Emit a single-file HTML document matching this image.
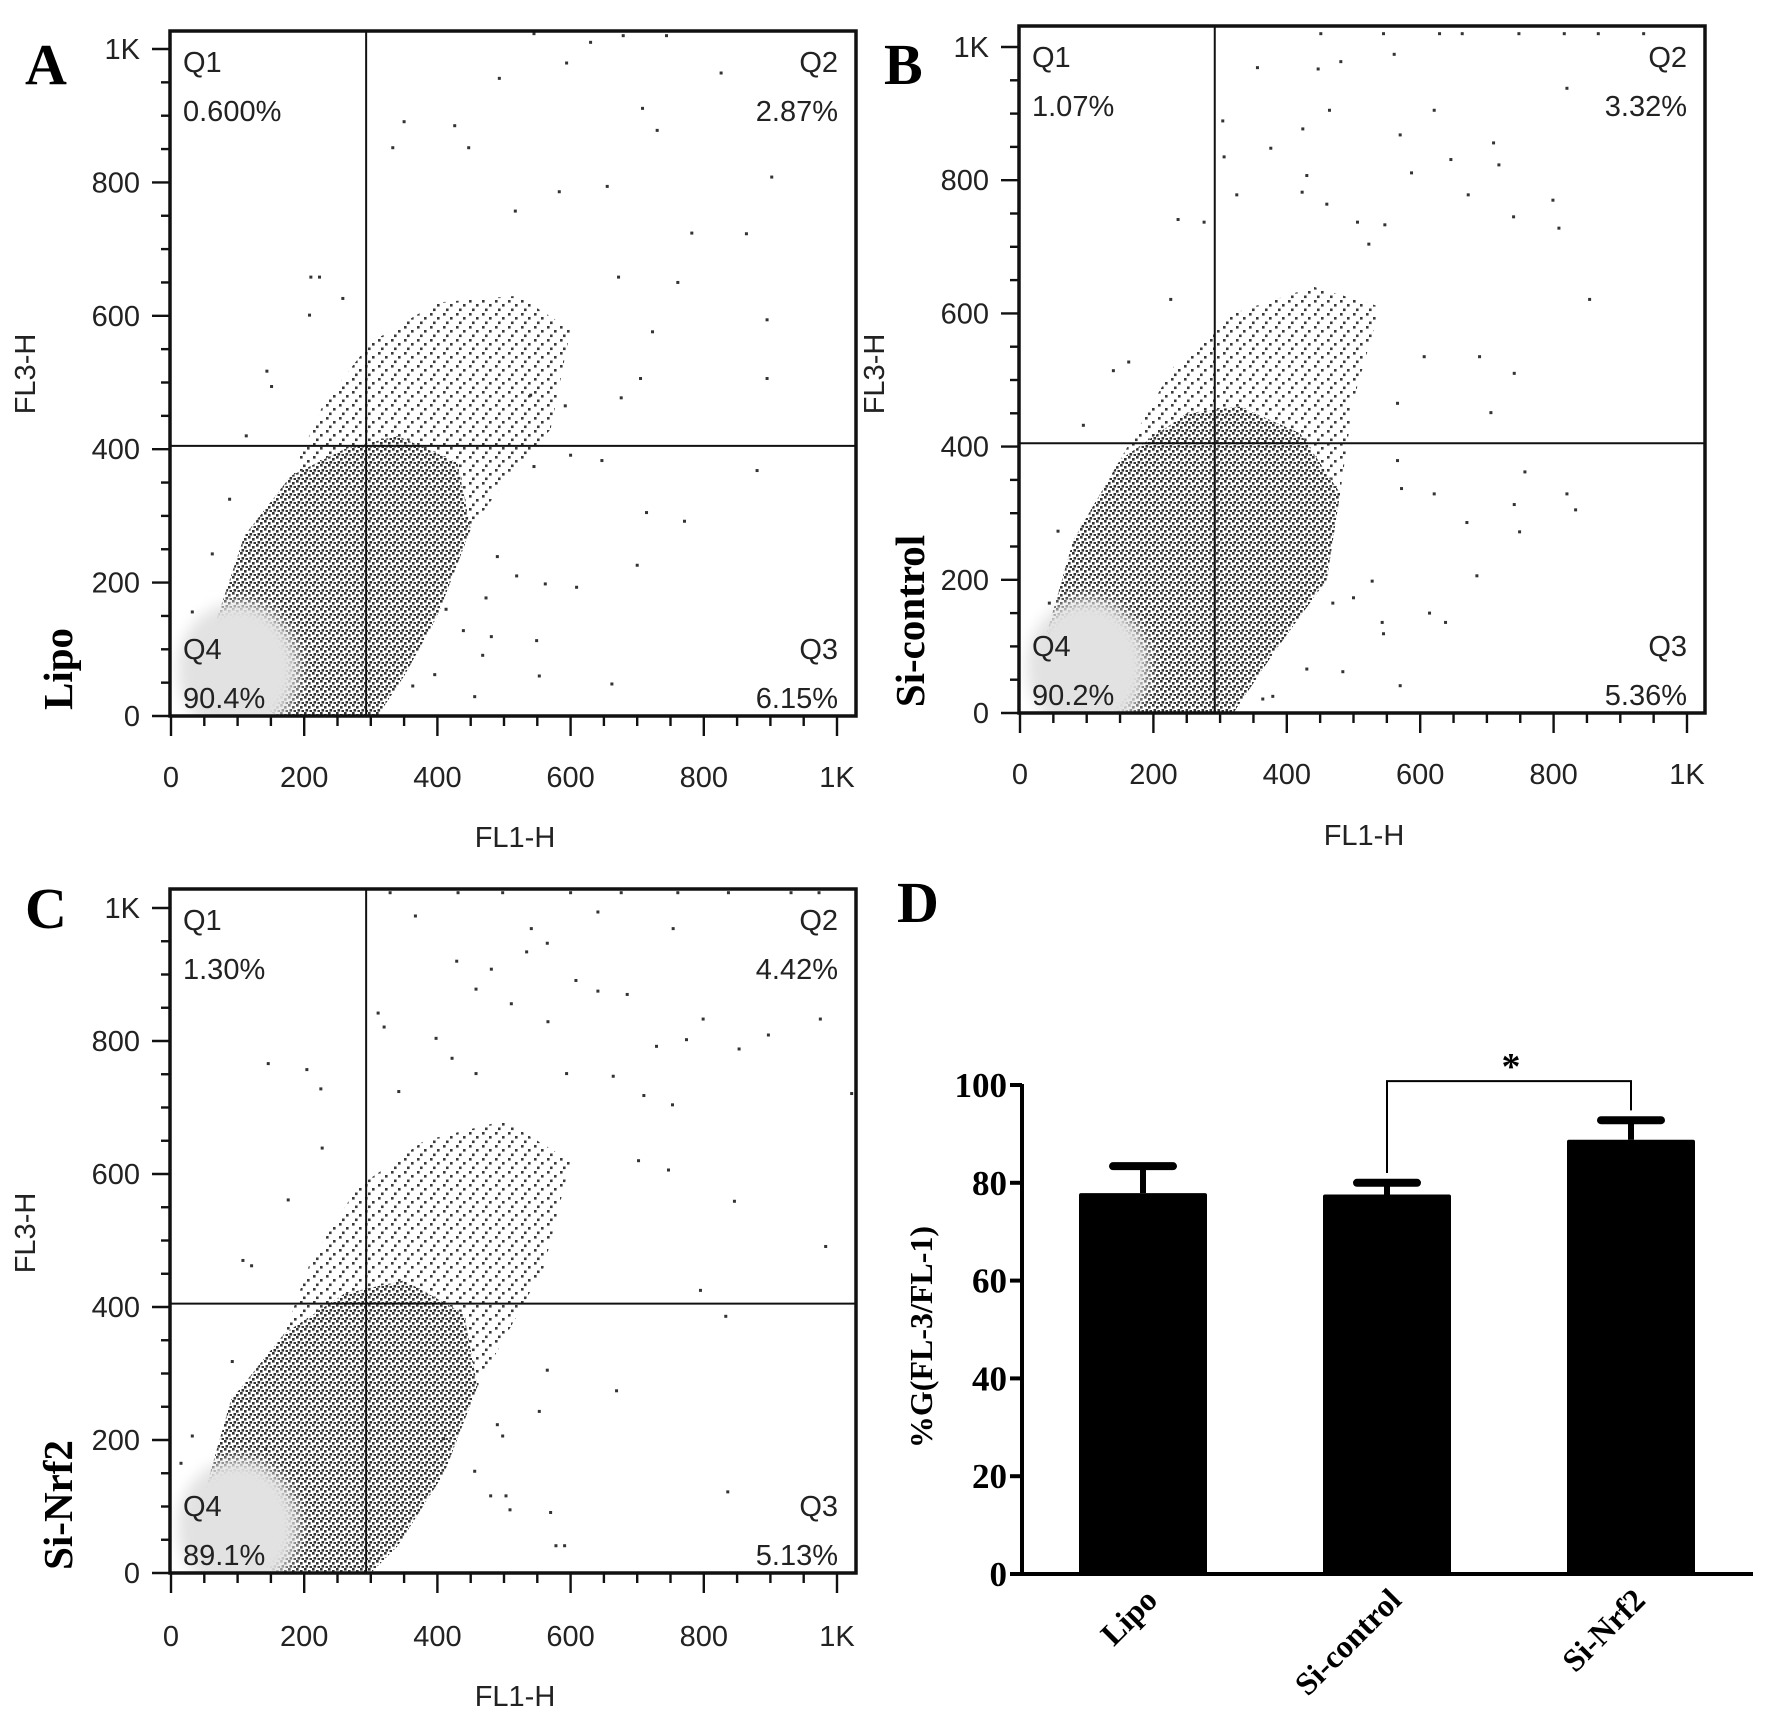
<!DOCTYPE html>
<html><head><meta charset="utf-8"><style>
html,body{margin:0;padding:0;background:#fff;}
svg{display:block;}
</style></head>
<body>
<svg id="fig" width="1772" height="1719" viewBox="0 0 1772 1719" xmlns="http://www.w3.org/2000/svg">
<defs>
<pattern id="densePat" width="8" height="8" patternUnits="userSpaceOnUse">
<rect x="0" y="0" width="2.6" height="2.6" fill="#333"/><rect x="4" y="2" width="2.6" height="2.6" fill="#333"/><rect x="1.5" y="5" width="2.6" height="2.6" fill="#333"/><rect x="5.5" y="6" width="2.6" height="2.6" fill="#333"/>
</pattern>
<pattern id="midPat" width="13" height="13" patternUnits="userSpaceOnUse">
<rect x="1" y="1" width="2.6" height="2.6" fill="#3a3a3a"/><rect x="8" y="5" width="2.6" height="2.6" fill="#3a3a3a"/><rect x="4" y="9.5" width="2.6" height="2.6" fill="#3a3a3a"/>
</pattern>
<filter id="blur6"><feGaussianBlur stdDeviation="7"/></filter>
</defs>
</svg>
<script>
// ---------- Scatter panel data (values in channel units 0-1000) ----------
const panelNames = ["A","B","C"];
const groupLabels = ["Lipo","Si-control","Si-Nrf2"];
const q1Pct = ["0.600%","1.07%","1.30%"];
const q2Pct = ["2.87%","3.32%","4.42%"];
const q3Pct = ["6.15%","5.36%","5.13%"];
const q4Pct = ["90.4%","90.2%","89.1%"];
const gateX = [293,292,293];
const gateY = [405,405,405];
const axisTicks = [0,200,400,600,800,1000];
const axisTickLabels = ["0","200","400","600","800","1K"];
const sparseA = [[545,1023],[679,1020],[744,1020],[630,1010],[594,979],[493,956],[826,964],[708,911],[350,891],[426,885],[730,878],[333,852],[447,852],[902,808],[583,786],[517,757],[655,794],[782,724],[864,723],[895,594],[895,506],[672,658],[723,576],[761,650],[880,368],[714,305],[771,292],[700,226],[609,193],[562,198],[549,113],[553,60],[662,48],[473,177],[468,91],[210,658],[223,658],[208,601],[258,626],[144,517],[151,494],[113,420],[88,325],[62,243],[32,156],[600,391],[545,374],[647,383],[676,477],[705,506],[540,481],[592,465],[490,239],[519,210],[413,160],[439,128],[481,119],[396,62],[363,45],[456,29]];
const sparseB = [[451,1020],[545,1020],[629,1020],[663,1020],[748,1020],[816,1020],[867,1020],[935,1020],[561,989],[356,969],[447,967],[481,978],[820,938],[621,905],[464,905],[304,889],[424,877],[306,835],[376,848],[570,868],[710,856],[718,823],[646,831],[587,811],[430,807],[325,778],[423,782],[460,764],[799,770],[672,778],[740,745],[808,728],[854,621],[741,510],[706,451],[566,465],[606,535],[689,535],[506,737],[547,733],[523,704],[237,741],[276,737],[226,621],[163,527],[140,514],[757,362],[820,329],[833,305],[741,313],[749,272],[670,286],[621,329],[566,379],[572,337],[685,206],[614,150],[638,136],[543,136],[545,119],[528,198],[500,173],[469,165],[570,41],[484,62],[430,66],[379,25],[364,21],[57,273],[95,432],[44,165]];
const sparseC = [[329,1023],[431,1023],[498,1023],[600,1023],[676,1023],[761,1023],[837,1023],[931,1023],[973,1023],[367,988],[641,994],[541,969],[565,947],[754,969],[534,934],[429,920],[481,908],[458,878],[608,891],[685,870],[511,856],[641,875],[566,829],[799,833],[853,788],[897,809],[975,833],[774,802],[729,792],[398,804],[320,821],[311,842],[146,766],[204,757],[225,728],[227,639],[342,724],[422,774],[458,751],[594,751],[664,747],[710,718],[753,704],[1022,721],[702,620],[747,606],[846,559],[983,491],[795,425],[833,386],[669,274],[565,305],[553,243],[490,223],[498,206],[480,116],[503,116],[509,95],[570,91],[578,41],[591,41],[836,122],[456,153],[409,202],[108,470],[121,462],[92,318],[32,206],[15,165],[142,186],[176,561]];
const sparseSets = [sparseA, sparseB, sparseC];
// dense cell-cloud outlines (value coords)
const denseA = [[60,120],[110,270],[180,360],[260,400],[340,420],[430,380],[450,280],[400,150],[350,60],[310,0],[160,0],[90,40]];
const midA = [[180,360],[230,470],[300,560],[400,620],[520,630],[600,580],[570,430],[500,350],[450,280],[430,380],[340,420],[260,400]];
const denseB = [[40,120],[80,260],[150,380],[250,450],[330,460],[420,420],[480,330],[460,200],[380,90],[320,0],[150,0],[60,40]];
const midB = [[150,380],[230,520],[320,600],[440,640],[540,610],[500,470],[480,330],[420,420],[330,460],[250,450]];
const denseC = [[50,120],[90,260],[170,360],[260,420],[350,440],[440,390],[460,280],[410,150],[340,40],[300,0],[160,0],[70,40]];
const midC = [[170,360],[210,470],[280,580],[380,650],[500,680],[600,620],[560,460],[460,280],[440,390],[350,440],[260,420]];
const denseSets = [denseA, denseB, denseC];
const midSets = [midA, midB, midC];

// ---------- Bar chart data ----------
const barCategories = ["Lipo","Si-control","Si-Nrf2"];
const barMeans = [77.9, 77.6, 88.8];
const barErrors = [5.5, 2.4, 4.0];
const barTicks = [0,20,40,60,80,100];
const sigPair = [1,2];
const sigLabel = "*";

const NS = "http://www.w3.org/2000/svg";
const svg = document.getElementById("fig");
function mk(tag, attrs, parent, text){
  const e = document.createElementNS(NS, tag);
  for (const k in attrs) e.setAttribute(k, attrs[k]);
  if (text !== undefined) e.textContent = text;
  (parent || svg).appendChild(e);
  return e;
}

const layouts = [
  {box:[170,31,856,716], x0:171, x1:837, y0:716, y1:49, letter:[25,84], ytitle:[25,374], group:[72,669], tickY:787, xtitle:847},
  {box:[1019,26,1705,713], x0:1020, x1:1687, y0:713, y1:47, letter:[884,84], ytitle:[874,374], group:[924,621], tickY:784, xtitle:845},
  {box:[170,889,856,1573], x0:171, x1:837, y0:1573, y1:908, letter:[25,928], ytitle:[25,1233], group:[72,1505], tickY:1646, xtitle:1706}
];

layouts.forEach((L, i) => {
  const g = mk("g", {});
  
  
  const sx = v => L.x0 + (L.x1 - L.x0) * v / 1000;
  const sy = v => L.y0 - (L.y0 - L.y1) * v / 1000;
  const [bl, bt, br, bb] = L.box;
  const clipId = "clip" + i;
  const cp = mk("clipPath", {id: clipId}, g);
  mk("rect", {x: bl, y: bt, width: br - bl, height: bb - bt}, cp);
  const inner = mk("g", {"clip-path": "url(#" + clipId + ")"}, g);

  const pts = arr => arr.map(p => sx(p[0]).toFixed(1) + "," + sy(p[1]).toFixed(1)).join(" ");
  const mid = mk("polygon", {points: pts(midSets[i]), fill: "url(#midPat)"}, inner);
  
  
  const dense = mk("polygon", {points: pts(denseSets[i]), fill: "url(#densePat)"}, inner);
  
  
  const core = mk("ellipse", {cx: sx(100), cy: sy(70), rx: (sx(90) - sx(0)), ry: (sy(0) - sy(100)), fill: "#e2e2e2", filter: "url(#blur6)"}, inner);
  
  

  sparseSets[i].forEach(p => {
    const d = mk("rect", {x: sx(p[0]) - 1.5, y: sy(p[1]) - 1.5, width: 3, height: 3, fill: "#333"}, inner);
    
    
  });

  const gv = mk("line", {x1: sx(gateX[i]), y1: bt, x2: sx(gateX[i]), y2: bb, stroke: "#111", "stroke-width": 2}, g);
  
  
  const gh = mk("line", {x1: bl, y1: sy(gateY[i]), x2: br, y2: sy(gateY[i]), stroke: "#111", "stroke-width": 2}, g);
  
  

  const fr = mk("rect", {x: bl, y: bt, width: br - bl, height: bb - bt, fill: "none", stroke: "#111", "stroke-width": 3.5}, g);
  
  

  for (let v = 0; v <= 1000; v += 50) {
    const major = v % 200 === 0;
    mk("line", {x1: bl - (major ? 18 : 9), y1: sy(v), x2: bl, y2: sy(v), stroke: "#111", "stroke-width": 2.4}, g);
  }
  for (let v = 0; v <= 1000; v += 50) {
    const major = v % 200 === 0;
    mk("line", {x1: sx(v), y1: bb, x2: sx(v), y2: bb + (major ? 20 : 10), stroke: "#111", "stroke-width": 2.4}, g);
  }
  axisTicks.forEach((v, k) => {
    const ty = mk("text", {x: bl - 30, y: sy(v) + 10, "text-anchor": "end", "font-family": "Liberation Sans, sans-serif", "font-size": 29, fill: "#222"}, g, axisTickLabels[k]);
    
    
    const tx = mk("text", {x: sx(v), y: L.tickY, "text-anchor": "middle", "font-family": "Liberation Sans, sans-serif", "font-size": 29, fill: "#222"}, g, axisTickLabels[k]);
    
    
  });

  const qf = {"font-family": "Liberation Sans, sans-serif", "font-size": 29, fill: "#222"};
  const lab = (x, y, anchor, t, name) => {
    const e = mk("text", Object.assign({x: x, y: y, "text-anchor": anchor}, qf), g, t);
    
    
  };
  lab(bl + 13, bt + 41, "start", "Q1", "q1-label");
  lab(bl + 13, bt + 90, "start", q1Pct[i], "q1-percent");
  lab(br - 18, bt + 41, "end", "Q2", "q2-label");
  lab(br - 18, bt + 90, "end", q2Pct[i], "q2-percent");
  lab(br - 18, bb - 57, "end", "Q3", "q3-label");
  lab(br - 18, bb - 8, "end", q3Pct[i], "q3-percent");
  lab(bl + 13, bb - 57, "start", "Q4", "q4-label");
  lab(bl + 13, bb - 8, "start", q4Pct[i], "q4-percent");

  const xt = mk("text", {x: (bl + br) / 2 + 2, y: L.xtitle, "text-anchor": "middle", "font-family": "Liberation Sans, sans-serif", "font-size": 29, fill: "#222"}, g, "FL1-H");
  
  
  const yt = mk("text", {x: 0, y: 0, transform: "translate(" + (L.ytitle[0] + 10) + "," + L.ytitle[1] + ") rotate(-90)", "text-anchor": "middle", "font-family": "Liberation Sans, sans-serif", "font-size": 29, fill: "#222"}, g, "FL3-H");
  
  

  const pl = mk("text", {x: L.letter[0], y: L.letter[1], "font-family": "Liberation Serif, serif", "font-weight": "bold", "font-size": 58, fill: "#000"}, g, panelNames[i]);
  
  
  const gl = mk("text", {x: 0, y: 0, transform: "translate(" + L.group[0] + "," + L.group[1] + ") rotate(-90)", "text-anchor": "middle", "font-family": "Liberation Serif, serif", "font-weight": "bold", "font-size": 41, fill: "#000"}, g, groupLabels[i]);
  
  
});

// ---------- Bar chart (panel D) ----------
(function(){
  const g = mk("g", {});
  
  
  const axX = 1022, y0 = 1574, y100 = 1085, xEnd = 1753;
  const sy = v => y0 - (y0 - y100) * v / 100;
  const barW = 128;
  const firstC = 1143, step = 244;
  const cx = i => firstC + step * i;

  barCategories.forEach((c, i) => {
    const b = mk("rect", {x: cx(i) - barW / 2, y: sy(barMeans[i]), width: barW, height: y0 - sy(barMeans[i]), fill: "#000", rx: 2}, g);
    
    
    const e = mk("line", {x1: cx(i), y1: sy(barMeans[i]), x2: cx(i), y2: sy(barMeans[i] + barErrors[i]), stroke: "#000", "stroke-width": 6}, g);
    
    
    const cap = mk("line", {x1: cx(i) - 30, y1: sy(barMeans[i] + barErrors[i]), x2: cx(i) + 30, y2: sy(barMeans[i] + barErrors[i]), stroke: "#000", "stroke-width": 8, "stroke-linecap": "round"}, g);
    
    
    const t = mk("text", {x: 0, y: 0, transform: "translate(" + (cx(i) + 16) + "," + (y0 + 28) + ") rotate(-45)", "text-anchor": "end", "font-family": "Liberation Serif, serif", "font-weight": "bold", "font-size": 32, fill: "#000"}, g, c);
    
    
  });

  const ya = mk("line", {x1: axX, y1: y100 - 1, x2: axX, y2: y0 + 2, stroke: "#000", "stroke-width": 4}, g);
  
  
  const xa = mk("line", {x1: axX - 2, y1: y0, x2: xEnd, y2: y0, stroke: "#000", "stroke-width": 4}, g);
  
  
  barTicks.forEach(v => {
    mk("line", {x1: axX - 12, y1: sy(v), x2: axX, y2: sy(v), stroke: "#000", "stroke-width": 4}, g);
    const t = mk("text", {x: axX - 15, y: sy(v) + 12, "text-anchor": "end", "font-family": "Liberation Serif, serif", "font-weight": "bold", "font-size": 35, fill: "#000"}, g, String(v));
    
    
  });
  const yt = mk("text", {x: 0, y: 0, transform: "translate(932,1337) rotate(-90)", "text-anchor": "middle", "font-family": "Liberation Serif, serif", "font-weight": "bold", "font-size": 32, fill: "#000"}, g, "%G(FL-3/FL-1)");
  
  

  const a = sigPair[0], b2 = sigPair[1];
  const top = Math.max(barMeans[a] + barErrors[a], barMeans[b2] + barErrors[b2]) + 8;
  const br = mk("polyline", {points: cx(a) + "," + sy(barMeans[a] + barErrors[a] + 2) + " " + cx(a) + "," + sy(top) + " " + cx(b2) + "," + sy(top) + " " + cx(b2) + "," + sy(barMeans[b2] + barErrors[b2] + 2), fill: "none", stroke: "#000", "stroke-width": 2}, g);
  
  
  const st = mk("text", {x: (cx(a) + cx(b2)) / 2 + 2, y: sy(top) - 2, "text-anchor": "middle", "font-family": "Liberation Serif, serif", "font-weight": "bold", "font-size": 38, fill: "#000"}, g, sigLabel);
  
  

  const pl = mk("text", {x: 897, y: 922, "font-family": "Liberation Serif, serif", "font-weight": "bold", "font-size": 58, fill: "#000"}, g, "D");
  
  
})();
</script>
</body></html>
